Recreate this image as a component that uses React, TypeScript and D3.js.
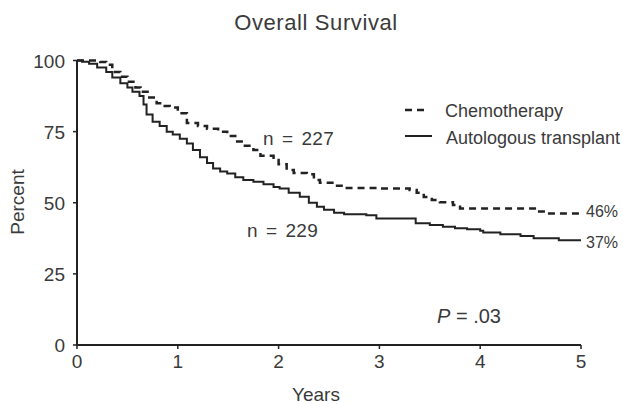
import React from "react";
import * as d3 from "d3";

const xTicks = [0, 1, 2, 3, 4, 5];
const yTicks = [0, 25, 50, 75, 100];

const autoTime = [0, 0.05, 0.12, 0.2, 0.29, 0.35, 0.43, 0.5, 0.55, 0.62, 0.66, 0.69, 0.75, 0.82, 0.89, 0.95, 1.02, 1.09, 1.15, 1.22, 1.29, 1.35, 1.42, 1.49, 1.57, 1.65, 1.75, 1.85, 1.95, 2.01, 2.1, 2.21, 2.3, 2.38, 2.45, 2.55, 2.65, 2.87, 2.97, 3.36, 3.5, 3.63, 3.75, 3.87, 4.0, 4.03, 4.2, 4.4, 4.53, 4.78, 5.0];
const autoSurv = [100, 99.6, 98.9, 97.5, 96, 94, 92, 90.5, 89, 87.5, 84.5, 81, 78.5, 77, 75, 74, 72.5, 70.8, 68.5, 66, 64, 62, 61, 60.3, 59, 58, 57.4, 56.5, 55.5, 55, 53.5, 52.1, 50, 48.6, 47.5, 46.5, 46, 45.6, 44.5, 42.8, 42.2, 41.6, 41, 40.7, 40.2, 39.5, 38.9, 38.3, 37.5, 36.8, 36.8];

const chemoTime = [0, 0.15, 0.23, 0.29, 0.35, 0.43, 0.5, 0.58, 0.63, 0.7, 0.79, 0.85, 0.92, 1.0, 1.09, 1.2, 1.29, 1.4, 1.49, 1.57, 1.65, 1.75, 1.82, 1.95, 2.0, 2.08, 2.15, 2.28, 2.35, 2.41, 2.55, 2.64, 3.0, 3.3, 3.37, 3.44, 3.52, 3.6, 3.73, 3.8, 4.49, 4.56, 4.63, 5.0];
const chemoSurv = [100, 100, 99.5, 98.5, 96, 94.3, 92.5, 90.5, 89, 87, 85, 84, 83.5, 81.5, 78, 77, 76, 75, 73.5, 71.5, 70, 68.5, 66.5, 65, 63.5, 61.5, 60.5, 60, 58, 57, 56, 55.2, 55, 54.5, 53.5, 52, 51, 50.2, 49.2, 48, 48, 46.9, 46.2, 46.2];

const FONT = "'Liberation Sans', Arial, sans-serif";
const TXT = "#3a3a3a";

export default function App() {
  const W = 623, H = 404;
  const x = d3.scaleLinear().domain([0, 5]).range([77, 581]);
  const y = d3.scaleLinear().domain([0, 100]).range([345, 60.5]);
  const line = d3
    .line<[number, number]>()
    .x((d) => x(d[0]))
    .y((d) => y(d[1]))
    .curve(d3.curveStepAfter);
  const autoPts = autoTime.map((t, i) => [t, autoSurv[i]] as [number, number]);
  const chemoPts = chemoTime.map((t, i) => [t, chemoSurv[i]] as [number, number]);

  return (
    <svg width={W} height={H} style={{ position: "absolute", left: 0, top: 0, background: "#fff" }} fontFamily={FONT}>
      <text x={316} y={30} textAnchor="middle" fontSize={22} letterSpacing={0.6} fill={TXT}>Overall Survival</text>

      {/* axes */}
      <line x1={x(0)} x2={x(0)} y1={y(100)} y2={y(0) + 1} stroke="#222" strokeWidth={2} />
      <line x1={x(0) - 1} x2={x(5)} y1={y(0)} y2={y(0)} stroke="#222" strokeWidth={2} />
      {yTicks.map((t) => (
        <g key={"y" + t}>
          <line x1={x(0) - 4} x2={x(0)} y1={y(t)} y2={y(t)} stroke="#222" strokeWidth={1.5} />
          <text x={65} y={y(t) + 7} textAnchor="end" fontSize={19} fill={TXT}>{t}</text>
        </g>
      ))}
      {xTicks.map((t) => (
        <g key={"x" + t}>
          <line x1={x(t)} x2={x(t)} y1={y(0)} y2={y(0) + 4} stroke="#222" strokeWidth={1.5} />
          <text x={x(t)} y={368} textAnchor="middle" fontSize={19} fill={TXT}>{t}</text>
        </g>
      ))}
      <text transform="translate(24,202) rotate(-90)" textAnchor="middle" fontSize={19} fill={TXT}>Percent</text>
      <text x={316} y={401} textAnchor="middle" fontSize={19} fill={TXT}>Years</text>

      {/* curves */}
      <path d={line(chemoPts) || ""} fill="none" stroke="#222" strokeWidth={2.5} strokeDasharray="7,5" />
      <path d={line(autoPts) || ""} fill="none" stroke="#222" strokeWidth={2} />

      {/* legend */}
      <line x1={405} x2={428} y1={110} y2={110} stroke="#222" strokeWidth={2.5} strokeDasharray="7,5" />
      <text x={445} y={117} fontSize={18} fill={TXT}>Chemotherapy</text>
      <line x1={405} x2={432} y1={136} y2={136} stroke="#222" strokeWidth={2} />
      <text x={446} y={144} fontSize={18} fill={TXT}>Autologous transplant</text>

      {/* annotations */}
      <text x={263} y={145} fontSize={19} wordSpacing={2.5} letterSpacing={0.3} fill={TXT}>n = 227</text>
      <text x={247} y={237} fontSize={19} wordSpacing={2.5} letterSpacing={0.3} fill={TXT}>n = 229</text>
      <text x={586} y={217} fontSize={16} fill={TXT}>46%</text>
      <text x={586} y={248} fontSize={16} fill={TXT}>37%</text>
      <text x={437} y={323} fontSize={20} fill={TXT}>
        <tspan fontStyle="italic">P</tspan> = .03
      </text>
    </svg>
  );
}
